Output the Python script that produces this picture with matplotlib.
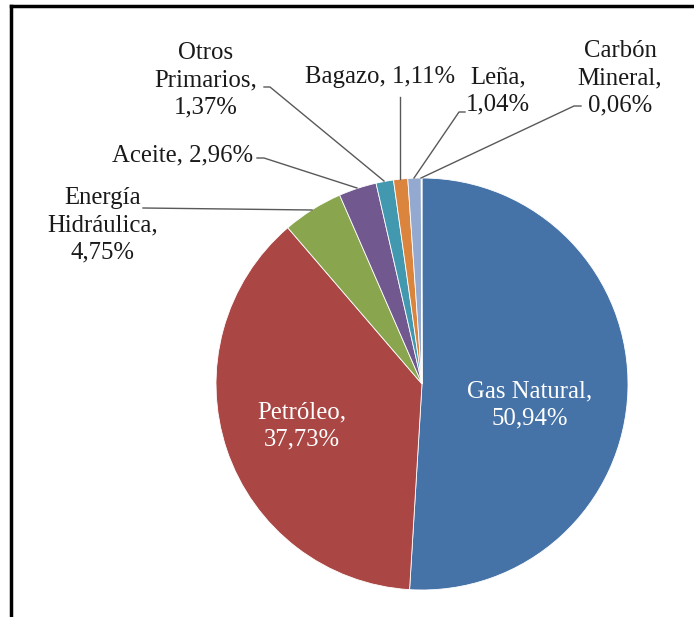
import matplotlib.pyplot as plt

W, H = 694, 617

labels = ['Gas Natural', 'Petróleo', 'Energía\nHidráulica', 'Aceite',
          'Otros\nPrimarios', 'Bagazo', 'Leña', 'Carbón\nMineral']
shares = [50.94, 37.73, 4.75, 2.96, 1.37, 1.11, 1.04, 0.06]
colors = ['#4572A7', '#AA4643', '#89A54E', '#71588F',
          '#4198AF', '#DB843D', '#93A9CF', '#D19392']

FONT = 'Liberation Serif'
FS = 17.8
LS = 1.32


def py(y):
    # pixel row (from the top) to data y
    return H - y


def pct(v):
    return f"{v:.2f}".replace('.', ',') + '%'


fig = plt.figure(figsize=(W / 100, H / 100), dpi=100)
ax = fig.add_axes([0, 0, 1, 1])

cx, cy, r = 422, 384, 206
ax.pie(shares, colors=colors, startangle=90, counterclock=False,
       center=(cx, py(cy)), radius=r, frame=True,
       wedgeprops=dict(edgecolor='white', linewidth=0.6))
ax.set_xlim(0, W)
ax.set_ylim(0, H)
ax.set_aspect('equal')
ax.axis('off')

# labels inside the two big slices
ax.text(530, py(405), f"{labels[0]},\n{pct(shares[0])}", color='white',
        ha='center', va='center', family=FONT, fontsize=FS, linespacing=LS)
ax.text(302, py(426), f"{labels[1]},\n{pct(shares[1])}", color='white',
        ha='center', va='center', family=FONT, fontsize=FS, linespacing=LS)

# outside labels: text, text position, leader points
outside = [
    (f"{labels[2]},\n{pct(shares[2])}", (103, 225), [(143, 208), (312, 210)]),
    (f"{labels[3]}, {pct(shares[3])}", (183, 155), [(257, 158), (264, 158), (357, 188)]),
    (f"{labels[4]},\n{pct(shares[4])}", (206, 80), [(264, 87), (270, 87), (384, 181)]),
    (f"{labels[5]}, {pct(shares[5])}", (380, 77), [(400, 97), (400, 179)]),
    (f"{labels[6]},\n{pct(shares[6])}", (498, 91), [(465, 112), (459, 112), (414, 178)]),
    (f"{labels[7]},\n{pct(shares[7])}", (620, 78), [(581, 106), (574, 106), (421, 178)]),
]
for txt, (tx, ty), pts in outside:
    ax.text(tx, py(ty), txt, color='#1a1a1a', ha='center', va='center',
            family=FONT, fontsize=FS, linespacing=LS)
    ax.plot([p[0] for p in pts], [py(p[1]) for p in pts],
            color='#595959', lw=1.0)

# frame (top and left edges)
ax.plot([11, W], [py(6), py(6)], color='black', lw=2.5, clip_on=False,
        solid_capstyle='projecting')
ax.plot([11, 11], [py(6), 0], color='black', lw=2.5, clip_on=False,
        solid_capstyle='projecting')

fig.savefig('out.png', dpi=100)
